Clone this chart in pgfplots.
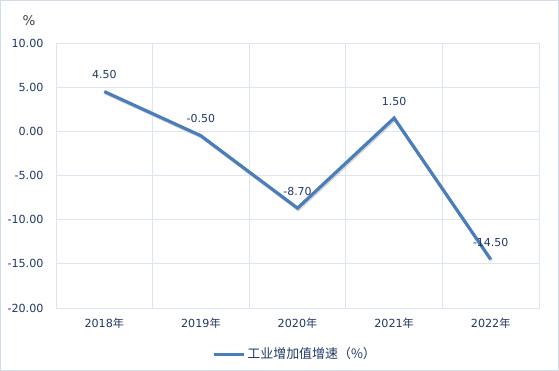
\documentclass[border=0pt]{standalone}
\usepackage{pgfplots}
\pgfplotsset{compat=1.18}
\usepackage{fontspec}
\setmainfont{DejaVu Sans}
\newfontfamily\cjk{Noto Sans CJK SC}
\definecolor{txt}{HTML}{1F3864}
\definecolor{line}{HTML}{4A7EBB}
\definecolor{gridc}{HTML}{DCE6F2}
\definecolor{frame}{HTML}{D0DCEA}
\begin{document}
\begin{tikzpicture}
\useasboundingbox (0,0) rectangle (559bp,371bp);
\draw[frame, line width=1.2bp] (0.6bp,0.6bp) rectangle (558.4bp,370.4bp);
\begin{axis}[
  at={(56bp,63bp)}, anchor=south west,
  scale only axis, width=483bp, height=265bp,
  xmin=-0.5, xmax=4.5, ymin=-20, ymax=10,
  ytick={-20,-15,...,10},
  xtick={0,1,2,3,4},
  xticklabels={2018{\cjk 年},2019{\cjk 年},2020{\cjk 年},2021{\cjk 年},2022{\cjk 年}},
  minor xtick={-0.5,0.5,1.5,2.5,3.5,4.5},
  xmajorgrids=false, xminorgrids=true, ymajorgrids=true,
  grid style={gridc, line width=0.8bp},
  minor grid style={gridc, line width=0.8bp},
  axis line style={gridc, line width=0.8bp},
  major tick length=0pt, minor tick length=0pt,
  tick style={draw=none},
  /pgf/number format/assume math mode=true,
  /pgf/number format/.cd, fixed, fixed zerofill, precision=2, /pgfplots/.cd,
  yticklabel style={font=\fontsize{11.2}{13}\selectfont, text=txt, xshift=-9bp},
  xticklabel style={font=\fontsize{11.2}{13}\selectfont, text=txt, yshift=-7bp},
  nodes near coords,
  every node near coord/.append style={anchor=center, yshift=17bp, font=\fontsize{11}{13}\selectfont, text=txt},
  legend style={at={(0.495,-0.174)}, anchor=center, draw=none, fill=none,
    font=\fontsize{13}{15}\selectfont\cjk, text=txt, inner sep=0pt},
  legend image code/.code={\draw[#1, line width=3.2bp] (0bp,0bp) -- (30bp,0bp);},
  clip=false,
]
\addplot[gray!60, opacity=0.5, line width=3bp, xshift=1bp, yshift=-1.5bp, forget plot, nodes near coords={}] coordinates {(0,4.5) (1,-0.5) (2,-8.7) (3,1.5) (4,-14.5)};
\addplot[line, line width=3.2bp] coordinates {(0,4.5) (1,-0.5) (2,-8.7) (3,1.5) (4,-14.5)};
\addlegendentry{工业增加值增速（\%）}
\node[text=black!75, font=\fontsize{13.5}{15}\selectfont] at (rel axis cs:-0.056,1.083) {\%};
\end{axis}
\end{tikzpicture}
\end{document}
